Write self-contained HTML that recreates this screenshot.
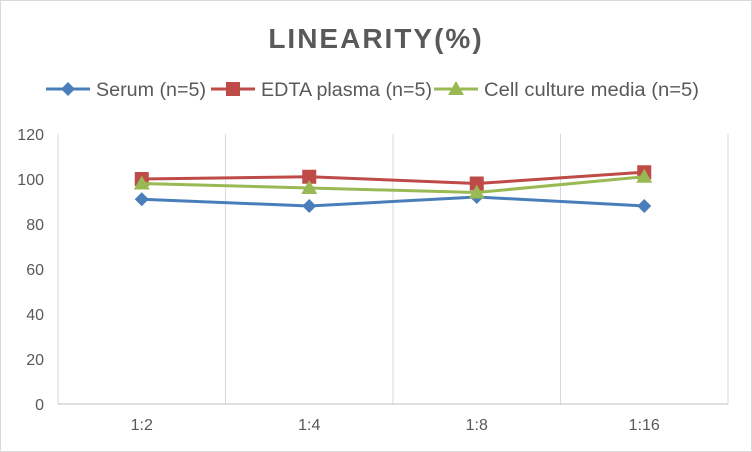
<!DOCTYPE html>
<html><head><meta charset="utf-8"><style>
body{margin:0;background:#fff}
svg{display:block;font-family:"Liberation Sans",sans-serif}
</style></head><body>
<svg width="752" height="452">
<rect x="0.5" y="0.5" width="751" height="451" fill="#fff" stroke="#d9d9d9"/>
<text x="376" y="48" text-anchor="middle" font-size="28" font-weight="bold" fill="#595959" letter-spacing="2">LINEARITY(%)</text>
<g id="legend"></g>
<g id="grid"></g>
<g id="series"></g>
</svg>
<script>
const categories=["1:2","1:4","1:8","1:16"];
const yTicks=[0,20,40,60,80,100,120];
const serum=[91,88,92,88];
const edta=[100,101,98,103];
const cell=[98,96,94,101];
const seriesNames=["Serum (n=5)","EDTA plasma (n=5)","Cell culture media (n=5)"];
const NS="http://www.w3.org/2000/svg";
const L=58,R=728,T=134,B=404,yMax=120;
const y=v=>B-(v/yMax)*(B-T);
const bw=(R-L)/categories.length;
const x=i=>L+bw*(i+0.5);
function mk(tag,at,parent){const e=document.createElementNS(NS,tag);for(const k in at)e.setAttribute(k,at[k]);parent.appendChild(e);return e;}
const grid=document.getElementById('grid');
yTicks.forEach(t=>{
  const tx=mk('text',{x:L-14,y:y(t)+6,'text-anchor':'end','font-size':16,fill:'#595959'},grid);
  tx.textContent=t;
  
  
});
for(let i=0;i<=categories.length;i++){
  const ln=mk('line',{x1:L+bw*i,x2:L+bw*i,y1:T,y2:B,stroke:'#d9d9d9','stroke-width':1},grid);
  
  
}
const ax=mk('line',{x1:L,x2:R,y1:B,y2:B,stroke:'#bfbfbf','stroke-width':1},grid);


categories.forEach((c,i)=>{
  const tx=mk('text',{x:x(i),y:430,'text-anchor':'middle','font-size':16,fill:'#595959'},grid);
  tx.textContent=c;
  
  
});
function marker(type,cx,cy,color,parent){
  let e;
  if(type==='diamond')e=mk('polygon',{points:`${cx},${cy-7} ${cx+7},${cy} ${cx},${cy+7} ${cx-7},${cy}`,fill:color},parent);
  else if(type==='square')e=mk('rect',{x:cx-7,y:cy-7,width:14,height:14,fill:color},parent);
  else e=mk('polygon',{points:`${cx},${cy-8} ${cx+8},${cy+6} ${cx-8},${cy+6}`,fill:color},parent);
  return e;
}
const defs=[[serum,'#4a7ebb','diamond','serum'],[edta,'#be4b48','square','edta-plasma'],[cell,'#98b954','triangle','cell-culture-media']];
const sg=document.getElementById('series');
defs.forEach(([d,c,m,n])=>{
  const pl=mk('polyline',{points:d.map((v,i)=>x(i)+','+y(v)).join(' '),fill:'none',stroke:c,'stroke-width':3},sg);
  
  
  d.forEach((v,i)=>{
    const mm=marker(m,x(i),y(v),c,sg);
    
    
  });
});
const lg=document.getElementById('legend');
const lx=[46,211,434];
const tw=[110,171,215];
defs.forEach(([d,c,m,n],k)=>{
  const g=mk('g',{},lg);
  
  
  mk('line',{x1:lx[k],x2:lx[k]+44,y1:89,y2:89,stroke:c,'stroke-width':3},g);
  marker(m,lx[k]+22,89,c,g);
  const t=mk('text',{x:lx[k]+50,y:96,'font-size':19,fill:'#595959',textLength:tw[k],lengthAdjust:'spacingAndGlyphs'},g);
  t.textContent=seriesNames[k];
});
</script>
</body></html>
